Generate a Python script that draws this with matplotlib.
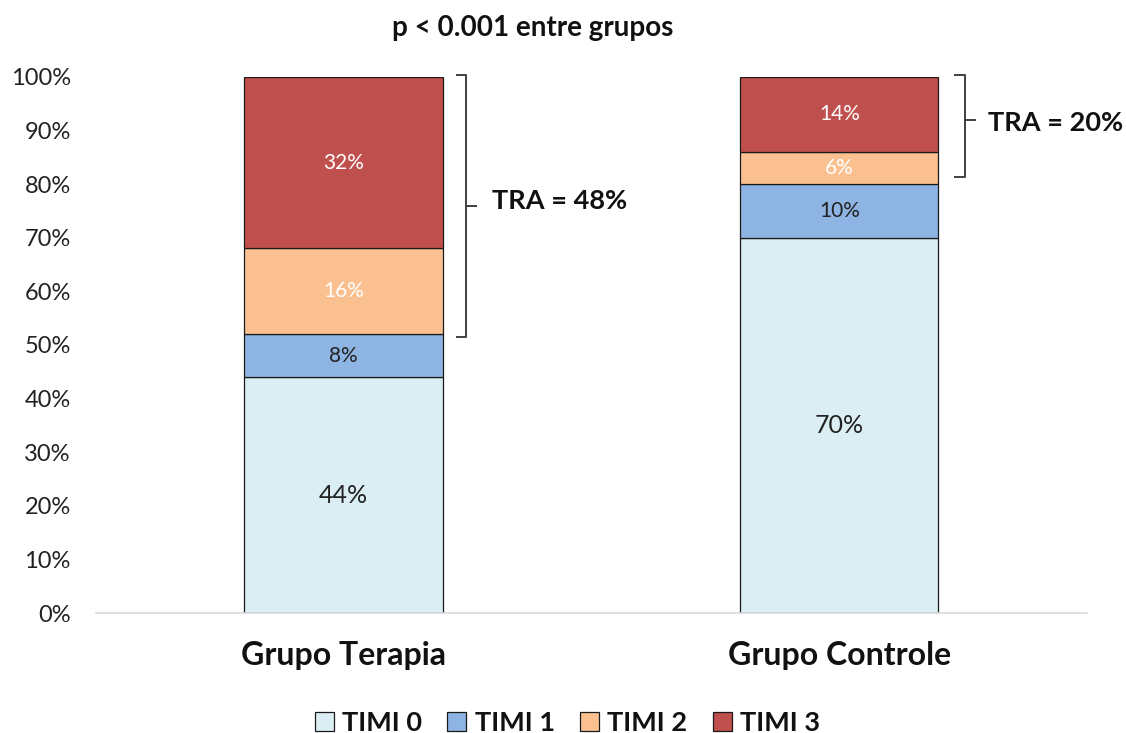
import matplotlib
matplotlib.use("Agg")
import matplotlib.pyplot as plt
import numpy as np

groups = ["Grupo Terapia", "Grupo Controle"]
series = ["TIMI 0", "TIMI 1", "TIMI 2", "TIMI 3"]
values = {
    "TIMI 0": [44, 70],
    "TIMI 1": [8, 10],
    "TIMI 2": [16, 6],
    "TIMI 3": [32, 14],
}
colors = ["#DAEEF3", "#8EB4E3", "#FAC090", "#C0504D"]
label_colors = ["#222222", "#222222", "white", "white"]
label_sizes = [18, 15, 15, 15]
tra_values = ["TRA = 48%", "TRA = 20%"]
title = "p < 0.001 entre grupos"
yticks = [0, 10, 20, 30, 40, 50, 60, 70, 80, 90, 100]

plt.rcParams['font.family'] = ['Lato', 'DejaVu Sans']

fig = plt.figure(figsize=(11.26, 7.33), dpi=100)
ax = fig.add_axes([0.085, 0.1637, 0.8804, 0.7313])

x = np.arange(len(groups))
bottom = np.zeros(len(groups))
handles = []
for i, s in enumerate(series):
    v = np.array(values[s], dtype=float)
    h = ax.bar(x, v, bottom=bottom, width=0.4, color=colors[i],
               edgecolor="#1a1a1a", linewidth=0.9, label=s)
    handles.append(h)
    for xi, vi, bi in zip(x, v, bottom):
        ax.text(xi, bi + vi / 2, f"{int(vi)}%", ha="center", va="center",
                color=label_colors[i], fontsize=label_sizes[i])
    bottom += v

ax.set_xlim(-0.5, 1.5)
ax.set_ylim(0, 100)
ax.set_yticks(yticks)
ax.set_yticklabels([f"{t}%" for t in yticks], fontsize=17, color="#222222")
ax.set_xticks(x)
ax.set_xticklabels(groups, fontsize=23, fontweight="bold", color="#111111")
ax.tick_params(axis="both", length=0)
ax.tick_params(axis="x", pad=20)
ax.tick_params(axis="y", pad=18)
for sp in ["top", "right", "left"]:
    ax.spines[sp].set_visible(False)
ax.spines["bottom"].set_color("#d9d9d9")
ax.spines["bottom"].set_linewidth(1.2)

# brackets (x in data coords)
def bracket(x0, ytop, ybot, ymid, text, tx, ty):
    hook = 0.022
    tick = 0.02
    ax.plot([x0 - hook, x0, x0, x0 - hook], [ytop, ytop, ybot, ybot],
            color="#404040", lw=1.4, clip_on=False, solid_capstyle="butt")
    ax.plot([x0, x0 + tick], [ymid, ymid], color="#404040", lw=1.4, clip_on=False)
    ax.text(tx, ty, text, ha="left", va="center", fontsize=19.5,
            fontweight="bold", color="#111111")

bracket(0.248, 100.4, 51.5, 75.9, tra_values[0], 0.3, 76.8)
bracket(1.253, 100.4, 81.3, 92.0, tra_values[1], 1.3, 91.5)

fig.text(0.473, 0.962, title, ha="center", va="center", fontsize=20,
         fontweight="bold", color="#111111")

leg = fig.legend(handles=handles, labels=series, loc="center",
                 bbox_to_anchor=(0.504, 0.014), ncol=4, frameon=False,
                 prop={"size": 19.5, "weight": "bold"}, handlelength=0.7,
                 handleheight=0.7, handletextpad=0.3, columnspacing=0.95)
for t in leg.get_texts():
    t.set_color("#111111")

fig.savefig("out.png", dpi=100)
